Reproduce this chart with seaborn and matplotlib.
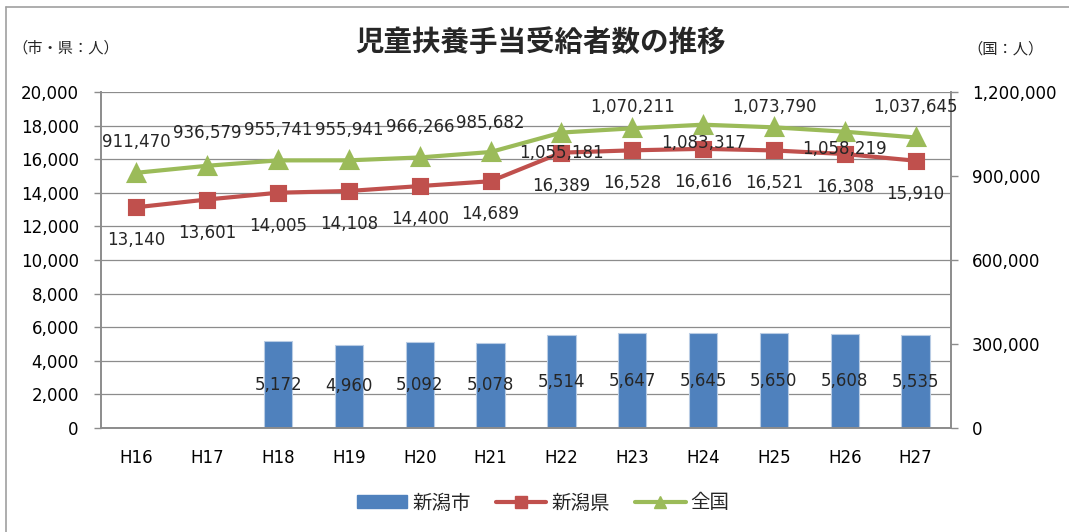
import numpy as np
import pandas as pd
import matplotlib
matplotlib.use("Agg")
import matplotlib.pyplot as plt
import seaborn as sns
from matplotlib.patches import Patch
from matplotlib.lines import Line2D

# ---- data ----
categories = ["H16", "H17", "H18", "H19", "H20", "H21", "H22", "H23", "H24", "H25", "H26", "H27"]
niigata_city = [np.nan, np.nan, 5172, 4960, 5092, 5078, 5514, 5647, 5645, 5650, 5608, 5535]
niigata_pref = [13140, 13601, 14005, 14108, 14400, 14689, 16389, 16528, 16616, 16521, 16308, 15910]
national = [911470, 936579, 955741, 955941, 966266, 985682, 1055181, 1070211, 1083317, 1073790, 1058219, 1037645]
left_ticks = [0, 2000, 4000, 6000, 8000, 10000, 12000, 14000, 16000, 18000, 20000]
right_ticks = [0, 300000, 600000, 900000, 1200000]
series_names = ["新潟市", "新潟県", "全国"]
title = "児童扶養手当受給者数の推移"
left_unit = "（市・県：人）"
right_unit = "（国：人）"

# label offsets (style only, pixels)
national_label_dy = [31, 33, 30, 30, 30, 29, -20, 21, -18, 20, -17, 30]
pref_label_dy = -33

BLUE = "#4F81BD"
RED = "#C0504D"
GREEN = "#9BBB59"
GRID = "#8C8C8C"

sns.set_theme(style="white")
plt.rcParams["font.family"] = ["DejaVu Sans", "Noto Sans CJK JP"]
CJK = ["Noto Sans CJK JP", "DejaVu Sans"]

df = pd.DataFrame({"cat": categories, "city": niigata_city,
                   "pref": niigata_pref, "nat": national})

fig = plt.figure(figsize=(10.69, 5.32), dpi=100)
ax = fig.add_axes([101 / 1069, 1 - 428 / 532, 850 / 1069, 336 / 532])
ax2 = ax.twinx()

sns.barplot(data=df, x="cat", y="city", order=categories, color=BLUE, saturation=1,
            width=0.4, edgecolor="#B9CCE4", linewidth=0.8, ax=ax, zorder=2)
sns.pointplot(data=df, x="cat", y="pref", order=categories, color=RED,
              markers="s", markersize=10, linewidth=3, errorbar=None, ax=ax, zorder=4)
sns.pointplot(data=df, x="cat", y="nat", order=categories, color=GREEN,
              markers="^", markersize=11, linewidth=3, errorbar=None, ax=ax2, zorder=4)

for a in (ax, ax2):
    a.set_xlim(-0.5, len(categories) - 0.5)
    a.set_xlabel("")
    a.set_ylabel("")

ax.set_ylim(0, 20000)
ax.set_yticks(left_ticks)
ax.set_yticklabels([f"{v:,}" for v in left_ticks], fontsize=12)
ax2.set_ylim(0, 1200000)
ax2.set_yticks(right_ticks)
ax2.set_yticklabels([f"{v:,}" for v in right_ticks], fontsize=12)

ax.yaxis.grid(True, color=GRID, linewidth=0.9)
ax.set_axisbelow(True)
ax.xaxis.grid(False)
ax2.grid(False)

# x ticks: labels at centers, tick marks at boundaries
ax.set_xticks(range(len(categories)))
ax.set_xticklabels(categories, fontsize=12)
ax.set_xticks(np.arange(-0.5, len(categories), 1.0), minor=True)
ax.tick_params(axis="x", which="major", length=0, pad=15, colors="black")
ax.tick_params(axis="x", which="minor", length=5, width=1, color=GRID, direction="out")
ax.tick_params(axis="y", which="major", length=5, width=1, color=GRID, pad=11,
               direction="out", left=True, labelcolor="black")
ax2.tick_params(axis="y", which="major", length=5, width=1, color=GRID, pad=10,
                direction="out", right=True, labelcolor="black")

for a in (ax, ax2):
    for s in ("left", "right", "bottom"):
        a.spines[s].set_visible(True)
        a.spines[s].set_color(GRID)
        a.spines[s].set_linewidth(1.2)
    a.spines["top"].set_visible(False)

# data labels
for i, v in enumerate(niigata_city):
    if not np.isnan(v):
        ax.text(i, v / 2, f"{int(v):,}", ha="center", va="center", fontsize=12, zorder=5)
for i, v in enumerate(niigata_pref):
    ax.annotate(f"{v:,}", (i, v), xytext=(0, pref_label_dy), textcoords="offset pixels",
                ha="center", va="center", fontsize=12, zorder=6)
for i, v in enumerate(national):
    ax2.annotate(f"{v:,}", (i, v), xytext=(0, national_label_dy[i]), textcoords="offset pixels",
                 ha="center", va="center", fontsize=12, zorder=6)

# titles / units
fig.text(541 / 1069, 1 - 43 / 532, title, ha="center", va="center", fontsize=20.5,
         fontweight="bold", family=CJK)
fig.text(66 / 1069, 1 - 48 / 532, left_unit, ha="center", va="center", fontsize=11,
         family=CJK)
fig.text(1006 / 1069, 1 - 49 / 532, right_unit, ha="center", va="center", fontsize=11,
         family=CJK)

# legend
handles = [
    Patch(facecolor=BLUE, edgecolor=BLUE),
    Line2D([0], [0], color=RED, lw=3, marker="s", markersize=8),
    Line2D([0], [0], color=GREEN, lw=3, marker="^", markersize=8),
]
fig.legend(handles, series_names, loc="center", bbox_to_anchor=(543 / 1069, 1 - 503 / 532),
           ncol=3, frameon=False, handlelength=2.6, handleheight=0.6, handletextpad=0.25,
           columnspacing=1.3, prop={"family": CJK, "size": 14})

# outer frame (left and top)
fig.add_artist(Line2D([6 / 1069, 6 / 1069], [0, 1 - 7 / 532], transform=fig.transFigure,
                      color="#A0A0A0", lw=1.2))
fig.add_artist(Line2D([6 / 1069, 1], [1 - 7 / 532, 1 - 7 / 532], transform=fig.transFigure,
                      color="#A0A0A0", lw=1.2))

fig.savefig("out.png", dpi=100)
